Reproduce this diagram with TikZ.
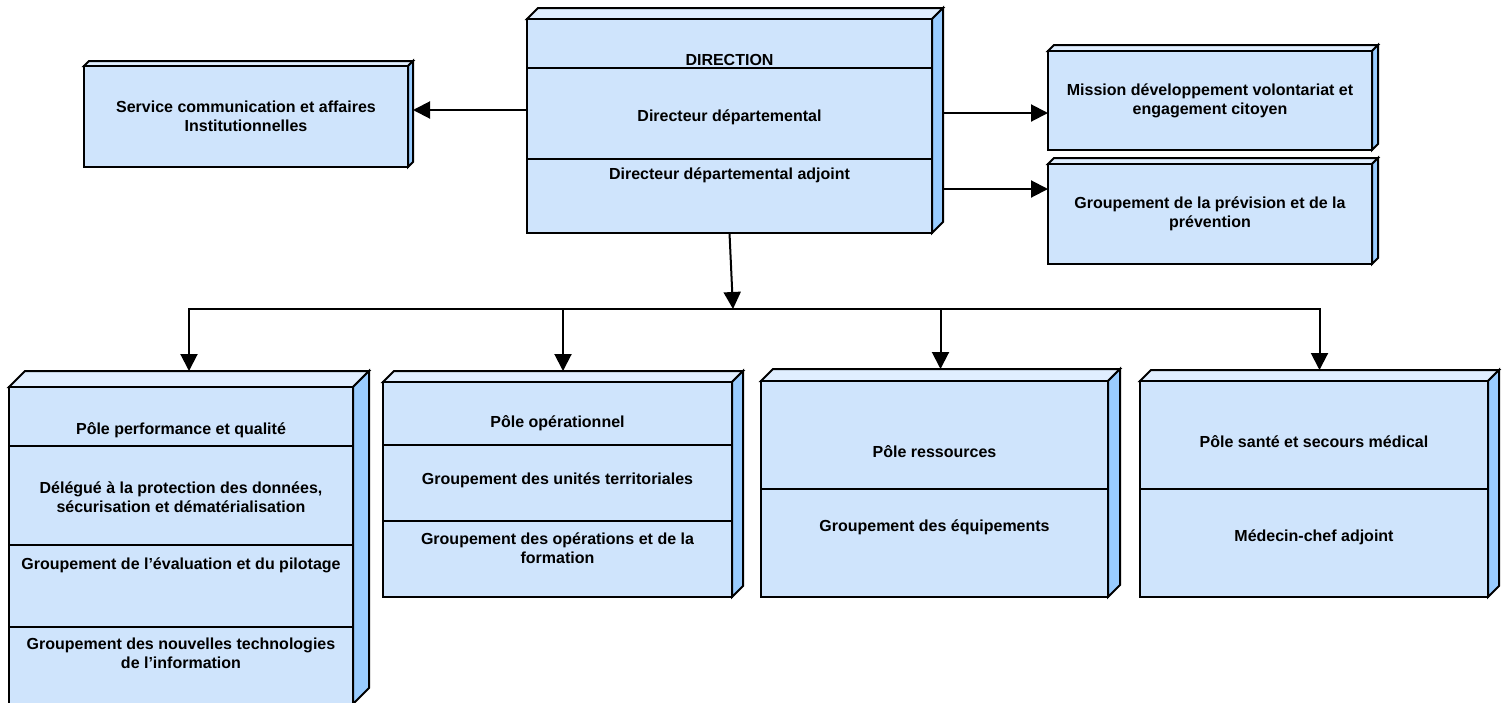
\documentclass[tikz,border=0pt]{standalone}
\usepackage{fontspec}
\setmainfont{Liberation Sans}
\usetikzlibrary{arrows.meta}

\definecolor{facefront}{RGB}{207,228,252}
\definecolor{faceside}{RGB}{153,204,255}
\definecolor{facetop}{RGB}{224,238,255}

\begin{document}
\begin{tikzpicture}[x=1pt,y=-1pt,line width=2pt,
	frontface/.style={draw,fill=facefront,inner sep=0pt,outer sep=0pt},
	boxtext/.style={font=\fontsize{16}{19}\selectfont\bfseries,align=center,inner sep=0pt},
	arr/.style={-{Triangle[length=17pt,width=17pt]}}]
	\useasboundingbox (0,0) rectangle (1510,702);

	% name / left / top / right / bottom / depth
	\foreach \n/\xa/\ya/\xb/\yb/\d in {dir/527/19/932/233/11, svc/84/66/408/167/5,
		mis/1048/51/1372/150/6, prev/1048/164/1372/264/6,
		b1/9/387/353/704/16, b2/383/382/732/597/11,
		b3/761/381/1108/597/12, b4/1140/381/1488/597/11}{
		\filldraw[fill=facetop] (\xa,\ya) -- ++(\d,-\d) -- (\xb+\d,\ya-\d) -- (\xb,\ya) -- cycle;
		\filldraw[fill=faceside] (\xb,\ya) -- (\xb+\d,\ya-\d) -- (\xb+\d,\yb-\d) -- (\xb,\yb) -- cycle;
		\node[frontface,minimum width={(\xb-\xa)*1pt},minimum height={(\yb-\ya)*1pt}]
			(\n) at ({(\xa+\xb)/2},{(\ya+\yb)/2}) {};
		\coordinate (\n-top) at ({(\xa+\xb+\d)/2},{\ya-\d});
		\coordinate (\n-side) at ({\xb+\d},{(\ya+\yb-\d)/2});
	}

	% compartments
	\foreach \n/\y in {dir/68, dir/159, b1/446, b1/545, b1/627, b2/445, b2/521, b3/489, b4/489}
		\draw (\n.west |- 0,\y) -- (\n.east |- 0,\y);

	\foreach \n/\i/\y/\txt in {dir/1/60/{DIRECTION},
		dir/2/117/{Directeur départemental},
		dir/3/175/{Directeur départemental adjoint},
		svc/1/116/{Service communication et affaires\\Institutionnelles},
		mis/1/101/{Mission développement volontariat et\\engagement citoyen},
		prev/1/214/{Groupement de la prévision et de la\\prévention},
		b1/1/430/{Pôle performance et qualité},
		b1/2/497/{Délégué à la protection des données,\\sécurisation et dématérialisation},
		b1/3/565/{Groupement de l’évaluation et du pilotage},
		b1/4/653/{Groupement des nouvelles technologies\\de l’information},
		b2/1/423/{Pôle opérationnel},
		b2/2/480/{Groupement des unités territoriales},
		b2/3/548/{Groupement des opérations et de la\\formation},
		b3/1/452/{Pôle ressources},
		b3/2/527/{Groupement des équipements},
		b4/1/442/{Pôle santé et secours médical},
		b4/2/537/{Médecin-chef adjoint}}
		\node[boxtext] (\n-t\i) at (\n.center |- 0,\y) {\txt};

	% connectors
	\draw[arr] (dir.west |- 0,110) -- (svc-side |- 0,110);
	\draw[arr] (dir-side |- 0,113) -- (mis.west |- 0,113);
	\draw[arr] (dir-side |- 0,189) -- (prev.west |- 0,189);

	\coordinate (bus) at (733,309);
	\draw[arr] (dir.south) -- (bus);
	\draw[line cap=rect] (b1-top |- bus) -- (b4-top |- bus);
	\foreach \n in {b1,b2,b3,b4}
		\draw[arr] (\n-top |- bus) -- (\n-top);
\end{tikzpicture}
\end{document}
